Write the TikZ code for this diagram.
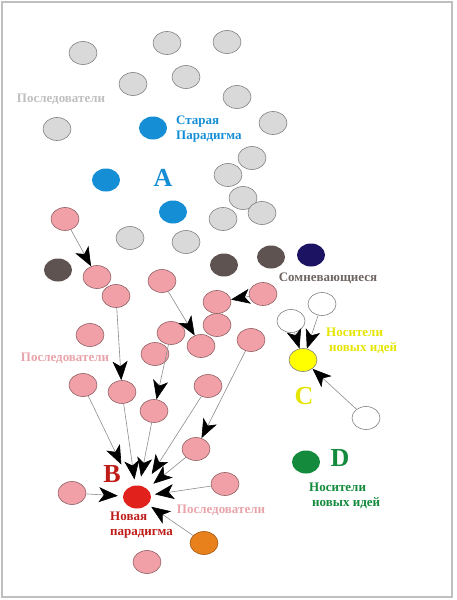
\documentclass[tikz,border=0pt]{standalone}
\usepackage{fontspec}
\setmainfont{Liberation Serif}
\usepackage{tikz}
\usetikzlibrary{
    arrows.meta,
    shapes.geometric
}

\definecolor{dotgray}{HTML}{D9D9D9}
\definecolor{oldblue}{HTML}{168ED6}
\definecolor{doubtbrown}{HTML}{5E5350}
\definecolor{navydot}{HTML}{1C1462}
\definecolor{pinkdot}{HTML}{F0A0A6}
\definecolor{pinktext}{HTML}{E8A4AA}
\definecolor{newred}{HTML}{E0211C}
\definecolor{orangedot}{HTML}{E8801C}
\definecolor{ideayellow}{HTML}{FFFF00}
\definecolor{ideagreen}{HTML}{138A3C}

\begin{document}
\begin{tikzpicture}[x=1pt,y=-1pt,
    dot/.style={ellipse,minimum width=28pt,minimum height=23pt,inner sep=0pt},
    oldfollower/.style={dot,draw=gray,fill=dotgray,line width=0.6pt},
    follower/.style={dot,draw=pinkdot!60!black,fill=pinkdot,line width=0.6pt},
    carrier/.style={dot,draw=gray,fill=white,line width=0.6pt},
    label/.style={font=\bfseries\fontsize{13}{15}\selectfont,inner sep=0pt},
    bigletter/.style={font=\bfseries\fontsize{26}{26}\selectfont,inner sep=0pt},
    push/.style={draw=gray!90,line width=0.6pt,-{Stealth[black,length=19pt,width=15pt,inset=5pt]}}
]
\useasboundingbox (0,0) rectangle (456,600);
\draw[gray!50,line width=1.5pt] (2,2) rectangle (452,597);

% old followers
\node[oldfollower] (g1) at (83,53) {};
\node[oldfollower] (g2) at (167,43) {};
\node[oldfollower] (g3) at (227,42) {};
\node[oldfollower] (g4) at (133,84) {};
\node[oldfollower] (g5) at (186,77) {};
\node[oldfollower] (g6) at (237,97) {};
\node[oldfollower] (g7) at (57,129) {};
\node[oldfollower] (g8) at (273,123) {};
\node[oldfollower] (g9) at (252,158) {};
\node[oldfollower] (g10) at (228,175) {};
\node[oldfollower] (g11) at (243,198) {};
\node[oldfollower] (g12) at (262,213) {};
\node[oldfollower] (g13) at (223,219) {};
\node[oldfollower] (g14) at (186,242) {};
\node[oldfollower] (g15) at (130,238) {};
\node[label,text=gray!50] (oldlbl) at (61,99) {Последователи};

% old paradigm
\node[dot,fill=oldblue] (b1) at (153,128) {};
\node[dot,fill=oldblue] (b2) at (106,180) {};
\node[dot,fill=oldblue] (b3) at (173,212) {};
\node[label,text=oldblue,align=left,anchor=west] (oldpar) at (176,129) {Старая\\Парадигма};
\node[bigletter,text=oldblue] (lA) at (163,178) {A};

% doubters
\node[dot,fill=doubtbrown] (d1) at (58,270) {};
\node[dot,fill=doubtbrown] (d2) at (224,265) {};
\node[dot,fill=doubtbrown] (d3) at (271,257) {};
\node[dot,fill=navydot] (n1) at (311,255) {};
\node[label,text=doubtbrown!90!white] (doubtlbl) at (328,278) {Сомневающиеся};

% new followers
\node[follower] (p1) at (65,219) {};
\node[follower] (p2) at (97,277) {};
\node[follower] (p3) at (116,296) {};
\node[follower] (p4) at (162,281) {};
\node[follower] (p5) at (217,302) {};
\node[follower] (p6) at (263,294) {};
\node[follower] (p7) at (217,325) {};
\node[follower] (p8) at (90,335) {};
\node[follower] (p9) at (171,333) {};
\node[follower] (p10) at (201,346) {};
\node[follower] (p11) at (155,354) {};
\node[follower] (p12) at (251,340) {};
\node[follower] (p13) at (83,385) {};
\node[follower] (p14) at (122,392) {};
\node[follower] (p15) at (208,386) {};
\node[follower] (p16) at (154,411) {};
\node[follower] (p17) at (196,449) {};
\node[follower] (p18) at (225,484) {};
\node[follower] (p19) at (72,493) {};
\node[follower] (p20) at (147,562) {};
\node[label,text=pinktext] (newlbl1) at (65,358) {Последователи};
\node[label,text=pinktext] (newlbl2) at (221,510) {Последователи};

% new paradigm
\node[dot,fill=newred] (r) at (137,497) {};
\node[dot,fill=orangedot,draw=orangedot!70!black,line width=0.6pt] (o) at (204,543) {};
\node[bigletter,text=newred!85!black] (lB) at (112,474) {B};
\node[label,text=newred!85!black,align=left,anchor=west] (newpar) at (110,525) {Новая\\парадигма};

% carriers of new ideas
\node[carrier] (w1) at (322,304) {};
\node[carrier] (w2) at (291,321) {};
\node[carrier] (w3) at (366,418) {};
\node[dot,fill=ideayellow,draw=gray,line width=0.6pt] (yl) at (303,360) {};
\node[label,text=ideayellow!90!black,align=left,anchor=west] (ideas1) at (326,341) {Носители\\\hspace{3pt}новых идей};
\node[bigletter,text=ideayellow!90!black] (lC) at (304,396) {C};
\node[dot,fill=ideagreen] (gr) at (306,462) {};
\node[bigletter,text=ideagreen] (lD) at (340,458) {D};
\node[label,text=ideagreen,align=left,anchor=west] (ideas2) at (309,496) {Носители\\\hspace{3pt}новых идей};

% arrows
\draw[push] (p1) -- (p2);
\draw[push] (p6) -- (p5);
\draw[push] (p4) -- (p10);
\draw[push] (p3) -- (p14);
\draw[push] (p9) -- (p16);
\draw[push] (p12) -- (p17);
\draw[push] (w1) -- (yl);
\draw[push] (w2) -- (yl);
\draw[push] (w3) -- (yl);
\draw[push,shorten >=24pt] (p13) -- (r);
\draw[push,shorten >=6pt] (p14) -- (r);
\draw[push,shorten >=9pt] (p16) -- (r);
\draw[push,shorten >=15pt] (p15) -- (r);
\draw[push,shorten >=8pt] (p17) -- (r);
\draw[push,shorten >=4pt] (p18) -- (r);
\draw[push,shorten >=5pt] (p19) -- (r);
\draw[push,shorten >=4pt] (o) -- (r);
\end{tikzpicture}
\end{document}
